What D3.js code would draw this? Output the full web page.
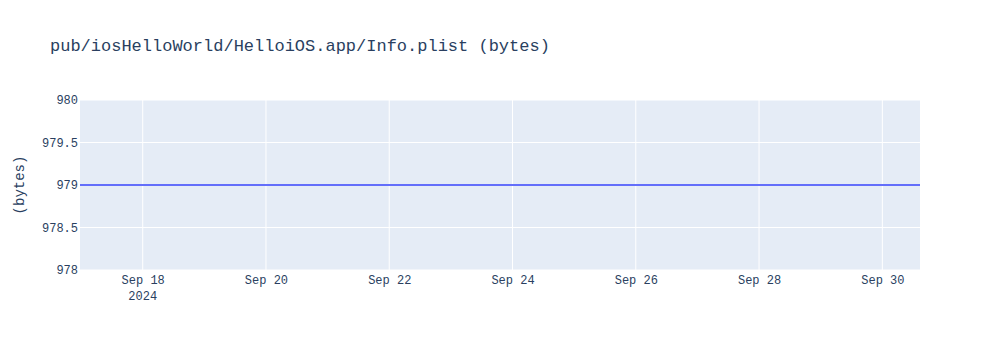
<!DOCTYPE html>
<html><head><meta charset="utf-8">
<script src="https://cdn.jsdelivr.net/npm/d3@7"></script>
<style>body{margin:0;background:#fff}svg{display:block}text{font-family:"Liberation Mono","Courier New",monospace;fill:#2a3f5f}</style>
</head><body><svg id="c" width="1000" height="350"></svg>
<script>
const dates = ["2024-09-16T23:35","2024-09-18T10:00","2024-09-20T10:00","2024-09-22T10:00","2024-09-24T10:00","2024-09-26T10:00","2024-09-28T10:00","2024-09-30T14:40"];
const values = [979,979,979,979,979,979,979,979];
const yTicks = [978,978.5,979,979.5,980];
const xTickDates = ["2024-09-18","2024-09-20","2024-09-22","2024-09-24","2024-09-26","2024-09-28","2024-09-30"];
const title = "pub/iosHelloWorld/HelloiOS.app/Info.plist (bytes)";
const yTitle = "(bytes)";

const svg = d3.select("#c");
const L=80,R=920,T=100,B=270;
const parse = d3.isoParse;
const x = d3.scaleTime().domain(d3.extent(dates, parse)).range([L,R]);
const y = d3.scaleLinear().domain([978,980]).range([B,T]);

svg.append("rect").attr("x",L).attr("y",T).attr("width",R-L).attr("height",B-T).attr("fill","#e5ecf6");
const g = svg.append("g");
xTickDates.forEach(d=>{
  const px = x(parse(d));
  g.append("line").attr("x1",px).attr("x2",px).attr("y1",T).attr("y2",B).attr("stroke","#fff").attr("stroke-width",1);
});
yTicks.forEach(v=>{
  g.append("line").attr("x1",L).attr("x2",R).attr("y1",y(v)).attr("y2",y(v)).attr("stroke","#fff").attr("stroke-width",1);
});
const fmt = d3.utcFormat("%b %d");
const xAxis = d3.axisBottom(x).tickValues(xTickDates.map(parse)).tickSize(0).tickPadding(0).tickFormat(d=>d3.timeFormat("%b %d")(d));
const xa = svg.append("g").attr("transform",`translate(0,${B})`).call(xAxis);
xa.select(".domain").remove();
xa.selectAll("text").attr("font-size",12).attr("dy",null).attr("y",14).style("font-family","Liberation Mono, monospace").attr("fill","#2a3f5f");
svg.append("text").attr("x",x(parse(xTickDates[0]))).attr("y",300).attr("text-anchor","middle").attr("font-size",12).text("2024");
const yAxis = d3.axisLeft(y).tickValues(yTicks).tickSize(0).tickPadding(2).tickFormat(d3.format(""));
const ya = svg.append("g").attr("transform",`translate(${L},0)`).call(yAxis);
ya.select(".domain").remove();
ya.selectAll("text").attr("font-size",12).style("font-family","Liberation Mono, monospace").attr("fill","#2a3f5f");
svg.append("path").datum(dates.map((d,i)=>[parse(d),values[i]]))
  .attr("d",d3.line().x(d=>x(d[0])).y(d=>y(d[1])))
  .attr("fill","none").attr("stroke","#636efa").attr("stroke-width",2);
svg.append("text").attr("x",50).attr("y",51).attr("font-size",17).text(title);
svg.append("text").attr("transform",`translate(24,${(T+B)/2}) rotate(-90)`).attr("text-anchor","middle").attr("font-size",14).text(yTitle);
</script></body></html>
